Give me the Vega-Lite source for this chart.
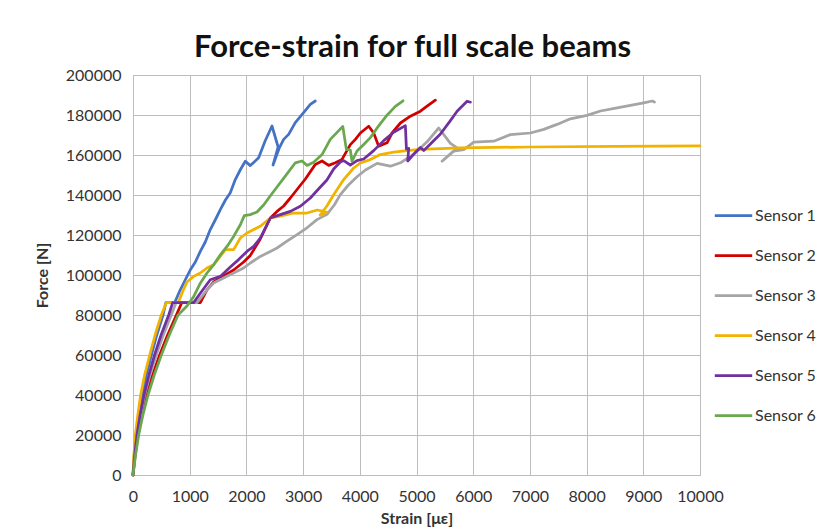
{
  "$schema": "https://vega.github.io/schema/vega-lite/v6.json",
  "width": 567,
  "height": 400,
  "autosize": {"type": "none"},
  "padding": {"left": 133, "top": 75, "right": 130, "bottom": 54},
  "background": "white",
  "title": {
    "text": "Force-strain for full scale beams",
    "font": "Lato",
    "fontSize": 31,
    "fontWeight": "bold",
    "color": "#111111",
    "anchor": "middle",
    "dx": -4,
    "offset": 3
  },
  "data": {
    "values": [
      {"s": "Sensor 1", "n": 0, "x": 0, "y": 0},
      {"s": "Sensor 1", "n": 1, "x": 22, "y": 10000},
      {"s": "Sensor 1", "n": 2, "x": 59, "y": 20000},
      {"s": "Sensor 1", "n": 3, "x": 105, "y": 30000},
      {"s": "Sensor 1", "n": 4, "x": 160, "y": 40000},
      {"s": "Sensor 1", "n": 5, "x": 235, "y": 50000},
      {"s": "Sensor 1", "n": 6, "x": 325, "y": 60000},
      {"s": "Sensor 1", "n": 7, "x": 420, "y": 70000},
      {"s": "Sensor 1", "n": 8, "x": 530, "y": 80000},
      {"s": "Sensor 1", "n": 9, "x": 580, "y": 86200},
      {"s": "Sensor 1", "n": 10, "x": 735, "y": 86200},
      {"s": "Sensor 1", "n": 11, "x": 834, "y": 92600},
      {"s": "Sensor 1", "n": 12, "x": 920, "y": 97500},
      {"s": "Sensor 1", "n": 13, "x": 1011, "y": 102600},
      {"s": "Sensor 1", "n": 14, "x": 1100, "y": 106500},
      {"s": "Sensor 1", "n": 15, "x": 1187, "y": 111800},
      {"s": "Sensor 1", "n": 16, "x": 1275, "y": 116500},
      {"s": "Sensor 1", "n": 17, "x": 1363, "y": 122700},
      {"s": "Sensor 1", "n": 18, "x": 1450, "y": 127500},
      {"s": "Sensor 1", "n": 19, "x": 1540, "y": 132700},
      {"s": "Sensor 1", "n": 20, "x": 1630, "y": 137500},
      {"s": "Sensor 1", "n": 21, "x": 1716, "y": 141100},
      {"s": "Sensor 1", "n": 22, "x": 1804, "y": 147700},
      {"s": "Sensor 1", "n": 23, "x": 1900, "y": 153000},
      {"s": "Sensor 1", "n": 24, "x": 1981, "y": 156900},
      {"s": "Sensor 1", "n": 25, "x": 2069, "y": 154700},
      {"s": "Sensor 1", "n": 26, "x": 2216, "y": 158600},
      {"s": "Sensor 1", "n": 27, "x": 2330, "y": 167000},
      {"s": "Sensor 1", "n": 28, "x": 2451, "y": 174500},
      {"s": "Sensor 1", "n": 29, "x": 2560, "y": 164000},
      {"s": "Sensor 1", "n": 30, "x": 2470, "y": 155000},
      {"s": "Sensor 1", "n": 31, "x": 2580, "y": 163500},
      {"s": "Sensor 1", "n": 32, "x": 2657, "y": 167800},
      {"s": "Sensor 1", "n": 33, "x": 2745, "y": 170300},
      {"s": "Sensor 1", "n": 34, "x": 2862, "y": 176200},
      {"s": "Sensor 1", "n": 35, "x": 3009, "y": 181200},
      {"s": "Sensor 1", "n": 36, "x": 3127, "y": 185300},
      {"s": "Sensor 1", "n": 37, "x": 3215, "y": 187000},

      {"s": "Sensor 2", "n": 0, "x": 0, "y": 0},
      {"s": "Sensor 2", "n": 1, "x": 38, "y": 10000},
      {"s": "Sensor 2", "n": 2, "x": 88, "y": 20000},
      {"s": "Sensor 2", "n": 3, "x": 155, "y": 30000},
      {"s": "Sensor 2", "n": 4, "x": 235, "y": 40000},
      {"s": "Sensor 2", "n": 5, "x": 345, "y": 50000},
      {"s": "Sensor 2", "n": 6, "x": 470, "y": 60000},
      {"s": "Sensor 2", "n": 7, "x": 610, "y": 70000},
      {"s": "Sensor 2", "n": 8, "x": 765, "y": 80000},
      {"s": "Sensor 2", "n": 9, "x": 860, "y": 86200},
      {"s": "Sensor 2", "n": 10, "x": 1187, "y": 86200},
      {"s": "Sensor 2", "n": 11, "x": 1305, "y": 92600},
      {"s": "Sensor 2", "n": 12, "x": 1422, "y": 96500},
      {"s": "Sensor 2", "n": 13, "x": 1598, "y": 99500},
      {"s": "Sensor 2", "n": 14, "x": 1775, "y": 102500},
      {"s": "Sensor 2", "n": 15, "x": 1951, "y": 106500},
      {"s": "Sensor 2", "n": 16, "x": 2069, "y": 109800},
      {"s": "Sensor 2", "n": 17, "x": 2245, "y": 118000},
      {"s": "Sensor 2", "n": 18, "x": 2422, "y": 128500},
      {"s": "Sensor 2", "n": 19, "x": 2540, "y": 131800},
      {"s": "Sensor 2", "n": 20, "x": 2657, "y": 134500},
      {"s": "Sensor 2", "n": 21, "x": 2775, "y": 138500},
      {"s": "Sensor 2", "n": 22, "x": 2900, "y": 143000},
      {"s": "Sensor 2", "n": 23, "x": 3040, "y": 148000},
      {"s": "Sensor 2", "n": 24, "x": 3216, "y": 155300},
      {"s": "Sensor 2", "n": 25, "x": 3334, "y": 157000},
      {"s": "Sensor 2", "n": 26, "x": 3451, "y": 154800},
      {"s": "Sensor 2", "n": 27, "x": 3569, "y": 156100},
      {"s": "Sensor 2", "n": 28, "x": 3686, "y": 157800},
      {"s": "Sensor 2", "n": 29, "x": 3833, "y": 165200},
      {"s": "Sensor 2", "n": 30, "x": 3922, "y": 167800},
      {"s": "Sensor 2", "n": 31, "x": 4010, "y": 171000},
      {"s": "Sensor 2", "n": 32, "x": 4157, "y": 174400},
      {"s": "Sensor 2", "n": 33, "x": 4245, "y": 171000},
      {"s": "Sensor 2", "n": 34, "x": 4333, "y": 164400},
      {"s": "Sensor 2", "n": 35, "x": 4480, "y": 166100},
      {"s": "Sensor 2", "n": 36, "x": 4569, "y": 171000},
      {"s": "Sensor 2", "n": 37, "x": 4716, "y": 176000},
      {"s": "Sensor 2", "n": 38, "x": 4892, "y": 179400},
      {"s": "Sensor 2", "n": 39, "x": 5069, "y": 181900},
      {"s": "Sensor 2", "n": 40, "x": 5186, "y": 184400},
      {"s": "Sensor 2", "n": 41, "x": 5333, "y": 187400},

      {"s": "Sensor 3", "n": 0, "x": 0, "y": 0},
      {"s": "Sensor 3", "n": 1, "x": 32, "y": 10000},
      {"s": "Sensor 3", "n": 2, "x": 76, "y": 20000},
      {"s": "Sensor 3", "n": 3, "x": 135, "y": 30000},
      {"s": "Sensor 3", "n": 4, "x": 205, "y": 40000},
      {"s": "Sensor 3", "n": 5, "x": 300, "y": 50000},
      {"s": "Sensor 3", "n": 6, "x": 410, "y": 60000},
      {"s": "Sensor 3", "n": 7, "x": 535, "y": 70000},
      {"s": "Sensor 3", "n": 8, "x": 675, "y": 80000},
      {"s": "Sensor 3", "n": 9, "x": 760, "y": 86200},
      {"s": "Sensor 3", "n": 10, "x": 1128, "y": 86200},
      {"s": "Sensor 3", "n": 11, "x": 1305, "y": 92600},
      {"s": "Sensor 3", "n": 12, "x": 1422, "y": 96000},
      {"s": "Sensor 3", "n": 13, "x": 1598, "y": 98500},
      {"s": "Sensor 3", "n": 14, "x": 1775, "y": 101000},
      {"s": "Sensor 3", "n": 15, "x": 1951, "y": 103500},
      {"s": "Sensor 3", "n": 16, "x": 2069, "y": 106000},
      {"s": "Sensor 3", "n": 17, "x": 2245, "y": 109300},
      {"s": "Sensor 3", "n": 18, "x": 2422, "y": 111800},
      {"s": "Sensor 3", "n": 19, "x": 2540, "y": 113500},
      {"s": "Sensor 3", "n": 20, "x": 2716, "y": 116900},
      {"s": "Sensor 3", "n": 21, "x": 2893, "y": 120200},
      {"s": "Sensor 3", "n": 22, "x": 3069, "y": 123600},
      {"s": "Sensor 3", "n": 23, "x": 3245, "y": 127700},
      {"s": "Sensor 3", "n": 24, "x": 3422, "y": 130300},
      {"s": "Sensor 3", "n": 25, "x": 3550, "y": 135000},
      {"s": "Sensor 3", "n": 26, "x": 3657, "y": 140200},
      {"s": "Sensor 3", "n": 27, "x": 3800, "y": 145000},
      {"s": "Sensor 3", "n": 28, "x": 3951, "y": 149100},
      {"s": "Sensor 3", "n": 29, "x": 4100, "y": 152500},
      {"s": "Sensor 3", "n": 30, "x": 4304, "y": 155800},
      {"s": "Sensor 3", "n": 31, "x": 4539, "y": 154400},
      {"s": "Sensor 3", "n": 32, "x": 4716, "y": 156100},
      {"s": "Sensor 3", "n": 33, "x": 4951, "y": 160400},
      {"s": "Sensor 3", "n": 34, "x": 5186, "y": 166600},
      {"s": "Sensor 3", "n": 35, "x": 5392, "y": 173500},
      {"s": "Sensor 3", "n": 36, "x": 5598, "y": 165800},
      {"s": "Sensor 3", "n": 37, "x": 5716, "y": 163600},
      {"s": "Sensor 3", "n": 38, "x": 5451, "y": 156900},
      {"s": "Sensor 3", "n": 39, "x": 5657, "y": 161900},
      {"s": "Sensor 3", "n": 40, "x": 5833, "y": 162700},
      {"s": "Sensor 3", "n": 41, "x": 6010, "y": 166400},
      {"s": "Sensor 3", "n": 42, "x": 6363, "y": 166900},
      {"s": "Sensor 3", "n": 43, "x": 6657, "y": 170200},
      {"s": "Sensor 3", "n": 44, "x": 7010, "y": 171000},
      {"s": "Sensor 3", "n": 45, "x": 7244, "y": 172800},
      {"s": "Sensor 3", "n": 46, "x": 7479, "y": 175300},
      {"s": "Sensor 3", "n": 47, "x": 7714, "y": 178100},
      {"s": "Sensor 3", "n": 48, "x": 8008, "y": 179800},
      {"s": "Sensor 3", "n": 49, "x": 8244, "y": 182000},
      {"s": "Sensor 3", "n": 50, "x": 8538, "y": 183600},
      {"s": "Sensor 3", "n": 51, "x": 8773, "y": 184800},
      {"s": "Sensor 3", "n": 52, "x": 9008, "y": 186100},
      {"s": "Sensor 3", "n": 53, "x": 9155, "y": 187000},
      {"s": "Sensor 3", "n": 54, "x": 9197, "y": 186500},

      {"s": "Sensor 4", "n": 0, "x": 0, "y": 0},
      {"s": "Sensor 4", "n": 1, "x": 15, "y": 10000},
      {"s": "Sensor 4", "n": 2, "x": 41, "y": 20000},
      {"s": "Sensor 4", "n": 3, "x": 85, "y": 30000},
      {"s": "Sensor 4", "n": 4, "x": 135, "y": 40000},
      {"s": "Sensor 4", "n": 5, "x": 205, "y": 50000},
      {"s": "Sensor 4", "n": 6, "x": 295, "y": 60000},
      {"s": "Sensor 4", "n": 7, "x": 390, "y": 70000},
      {"s": "Sensor 4", "n": 8, "x": 500, "y": 80000},
      {"s": "Sensor 4", "n": 9, "x": 590, "y": 86200},
      {"s": "Sensor 4", "n": 10, "x": 800, "y": 86200},
      {"s": "Sensor 4", "n": 11, "x": 880, "y": 92000},
      {"s": "Sensor 4", "n": 12, "x": 952, "y": 96500},
      {"s": "Sensor 4", "n": 13, "x": 1070, "y": 99300},
      {"s": "Sensor 4", "n": 14, "x": 1187, "y": 101000},
      {"s": "Sensor 4", "n": 15, "x": 1305, "y": 103500},
      {"s": "Sensor 4", "n": 16, "x": 1422, "y": 105100},
      {"s": "Sensor 4", "n": 17, "x": 1540, "y": 109300},
      {"s": "Sensor 4", "n": 18, "x": 1628, "y": 112700},
      {"s": "Sensor 4", "n": 19, "x": 1775, "y": 112700},
      {"s": "Sensor 4", "n": 20, "x": 1893, "y": 118500},
      {"s": "Sensor 4", "n": 21, "x": 2010, "y": 121000},
      {"s": "Sensor 4", "n": 22, "x": 2245, "y": 124400},
      {"s": "Sensor 4", "n": 23, "x": 2422, "y": 128500},
      {"s": "Sensor 4", "n": 24, "x": 2599, "y": 129400},
      {"s": "Sensor 4", "n": 25, "x": 2834, "y": 131000},
      {"s": "Sensor 4", "n": 26, "x": 3069, "y": 131000},
      {"s": "Sensor 4", "n": 27, "x": 3250, "y": 132500},
      {"s": "Sensor 4", "n": 28, "x": 3420, "y": 131500},
      {"s": "Sensor 4", "n": 29, "x": 3300, "y": 130000},
      {"s": "Sensor 4", "n": 30, "x": 3420, "y": 134500},
      {"s": "Sensor 4", "n": 31, "x": 3539, "y": 140100},
      {"s": "Sensor 4", "n": 32, "x": 3716, "y": 147700},
      {"s": "Sensor 4", "n": 33, "x": 3892, "y": 153500},
      {"s": "Sensor 4", "n": 34, "x": 4010, "y": 156000},
      {"s": "Sensor 4", "n": 35, "x": 4186, "y": 157700},
      {"s": "Sensor 4", "n": 36, "x": 4363, "y": 160200},
      {"s": "Sensor 4", "n": 37, "x": 4598, "y": 161400},
      {"s": "Sensor 4", "n": 38, "x": 4833, "y": 162200},
      {"s": "Sensor 4", "n": 39, "x": 5069, "y": 162800},
      {"s": "Sensor 4", "n": 40, "x": 5775, "y": 163600},
      {"s": "Sensor 4", "n": 41, "x": 7000, "y": 164000},
      {"s": "Sensor 4", "n": 42, "x": 8500, "y": 164300},
      {"s": "Sensor 4", "n": 43, "x": 10000, "y": 164600},

      {"s": "Sensor 5", "n": 0, "x": 0, "y": 0},
      {"s": "Sensor 5", "n": 1, "x": 30, "y": 10000},
      {"s": "Sensor 5", "n": 2, "x": 70, "y": 20000},
      {"s": "Sensor 5", "n": 3, "x": 125, "y": 30000},
      {"s": "Sensor 5", "n": 4, "x": 195, "y": 40000},
      {"s": "Sensor 5", "n": 5, "x": 280, "y": 50000},
      {"s": "Sensor 5", "n": 6, "x": 380, "y": 60000},
      {"s": "Sensor 5", "n": 7, "x": 495, "y": 70000},
      {"s": "Sensor 5", "n": 8, "x": 630, "y": 80000},
      {"s": "Sensor 5", "n": 9, "x": 700, "y": 86200},
      {"s": "Sensor 5", "n": 10, "x": 1070, "y": 86200},
      {"s": "Sensor 5", "n": 11, "x": 1187, "y": 90900},
      {"s": "Sensor 5", "n": 12, "x": 1363, "y": 97600},
      {"s": "Sensor 5", "n": 13, "x": 1540, "y": 99300},
      {"s": "Sensor 5", "n": 14, "x": 1716, "y": 104000},
      {"s": "Sensor 5", "n": 15, "x": 1863, "y": 107700},
      {"s": "Sensor 5", "n": 16, "x": 2010, "y": 111800},
      {"s": "Sensor 5", "n": 17, "x": 2128, "y": 114300},
      {"s": "Sensor 5", "n": 18, "x": 2245, "y": 118500},
      {"s": "Sensor 5", "n": 19, "x": 2422, "y": 128500},
      {"s": "Sensor 5", "n": 20, "x": 2599, "y": 130200},
      {"s": "Sensor 5", "n": 21, "x": 2775, "y": 131800},
      {"s": "Sensor 5", "n": 22, "x": 2951, "y": 134400},
      {"s": "Sensor 5", "n": 23, "x": 3128, "y": 138500},
      {"s": "Sensor 5", "n": 24, "x": 3304, "y": 144000},
      {"s": "Sensor 5", "n": 25, "x": 3420, "y": 147500},
      {"s": "Sensor 5", "n": 26, "x": 3539, "y": 153000},
      {"s": "Sensor 5", "n": 27, "x": 3657, "y": 156500},
      {"s": "Sensor 5", "n": 28, "x": 3716, "y": 157200},
      {"s": "Sensor 5", "n": 29, "x": 3833, "y": 155000},
      {"s": "Sensor 5", "n": 30, "x": 3951, "y": 157200},
      {"s": "Sensor 5", "n": 31, "x": 4069, "y": 158000},
      {"s": "Sensor 5", "n": 32, "x": 4245, "y": 162200},
      {"s": "Sensor 5", "n": 33, "x": 4422, "y": 167200},
      {"s": "Sensor 5", "n": 34, "x": 4598, "y": 171400},
      {"s": "Sensor 5", "n": 35, "x": 4804, "y": 174700},
      {"s": "Sensor 5", "n": 36, "x": 4822, "y": 163000},
      {"s": "Sensor 5", "n": 37, "x": 4863, "y": 163300},
      {"s": "Sensor 5", "n": 38, "x": 4845, "y": 157000},
      {"s": "Sensor 5", "n": 39, "x": 4980, "y": 161300},
      {"s": "Sensor 5", "n": 40, "x": 5069, "y": 163800},
      {"s": "Sensor 5", "n": 41, "x": 5128, "y": 162200},
      {"s": "Sensor 5", "n": 42, "x": 5245, "y": 165500},
      {"s": "Sensor 5", "n": 43, "x": 5422, "y": 170500},
      {"s": "Sensor 5", "n": 44, "x": 5598, "y": 177200},
      {"s": "Sensor 5", "n": 45, "x": 5716, "y": 181900},
      {"s": "Sensor 5", "n": 46, "x": 5892, "y": 186900},
      {"s": "Sensor 5", "n": 47, "x": 5951, "y": 186400},

      {"s": "Sensor 6", "n": 0, "x": 0, "y": 0},
      {"s": "Sensor 6", "n": 1, "x": 45, "y": 10000},
      {"s": "Sensor 6", "n": 2, "x": 100, "y": 20000},
      {"s": "Sensor 6", "n": 3, "x": 175, "y": 30000},
      {"s": "Sensor 6", "n": 4, "x": 265, "y": 40000},
      {"s": "Sensor 6", "n": 5, "x": 375, "y": 50000},
      {"s": "Sensor 6", "n": 6, "x": 500, "y": 60000},
      {"s": "Sensor 6", "n": 7, "x": 640, "y": 70000},
      {"s": "Sensor 6", "n": 8, "x": 795, "y": 80000},
      {"s": "Sensor 6", "n": 9, "x": 952, "y": 84500},
      {"s": "Sensor 6", "n": 10, "x": 1070, "y": 89200},
      {"s": "Sensor 6", "n": 11, "x": 1187, "y": 95900},
      {"s": "Sensor 6", "n": 12, "x": 1305, "y": 101000},
      {"s": "Sensor 6", "n": 13, "x": 1422, "y": 105100},
      {"s": "Sensor 6", "n": 14, "x": 1540, "y": 110100},
      {"s": "Sensor 6", "n": 15, "x": 1658, "y": 114300},
      {"s": "Sensor 6", "n": 16, "x": 1775, "y": 119300},
      {"s": "Sensor 6", "n": 17, "x": 1893, "y": 125100},
      {"s": "Sensor 6", "n": 18, "x": 1963, "y": 129700},
      {"s": "Sensor 6", "n": 19, "x": 2069, "y": 130200},
      {"s": "Sensor 6", "n": 20, "x": 2187, "y": 131500},
      {"s": "Sensor 6", "n": 21, "x": 2304, "y": 135000},
      {"s": "Sensor 6", "n": 22, "x": 2420, "y": 139500},
      {"s": "Sensor 6", "n": 23, "x": 2540, "y": 144000},
      {"s": "Sensor 6", "n": 24, "x": 2686, "y": 149400},
      {"s": "Sensor 6", "n": 25, "x": 2863, "y": 156100},
      {"s": "Sensor 6", "n": 26, "x": 2980, "y": 157000},
      {"s": "Sensor 6", "n": 27, "x": 3069, "y": 154800},
      {"s": "Sensor 6", "n": 28, "x": 3186, "y": 156400},
      {"s": "Sensor 6", "n": 29, "x": 3334, "y": 160200},
      {"s": "Sensor 6", "n": 30, "x": 3480, "y": 167800},
      {"s": "Sensor 6", "n": 31, "x": 3700, "y": 174300},
      {"s": "Sensor 6", "n": 32, "x": 3763, "y": 162800},
      {"s": "Sensor 6", "n": 33, "x": 3833, "y": 162500},
      {"s": "Sensor 6", "n": 34, "x": 3863, "y": 156900},
      {"s": "Sensor 6", "n": 35, "x": 3951, "y": 162000},
      {"s": "Sensor 6", "n": 36, "x": 4069, "y": 165300},
      {"s": "Sensor 6", "n": 37, "x": 4186, "y": 168700},
      {"s": "Sensor 6", "n": 38, "x": 4333, "y": 174600},
      {"s": "Sensor 6", "n": 39, "x": 4480, "y": 179900},
      {"s": "Sensor 6", "n": 40, "x": 4627, "y": 184300},
      {"s": "Sensor 6", "n": 41, "x": 4763, "y": 187100}
    ]
  },
  "mark": {"type": "line", "strokeWidth": 2.75, "strokeJoin": "round", "strokeCap": "round"},
  "encoding": {
    "x": {
      "field": "x",
      "type": "quantitative",
      "scale": {"domain": [0, 10000], "nice": false, "zero": true},
      "axis": {
        "title": "Strain [με]",
        "values": [0, 1000, 2000, 3000, 4000, 5000, 6000, 7000, 8000, 9000, 10000],
        "format": "d",
        "labelOverlap": false,
        "labelFlush": false,
        "labelPadding": 13,
        "titlePadding": 6
      }
    },
    "y": {
      "field": "y",
      "type": "quantitative",
      "scale": {"domain": [0, 200000], "nice": false},
      "axis": {
        "title": "Force [N]",
        "values": [0, 20000, 40000, 60000, 80000, 100000, 120000, 140000, 160000, 180000, 200000],
        "format": "d",
        "labelOverlap": false,
        "labelFlush": false,
        "labelPadding": 12,
        "titleX": -83,
        "titleY": 200
      }
    },
    "color": {
      "field": "s",
      "type": "nominal",
      "scale": {
        "domain": ["Sensor 1", "Sensor 2", "Sensor 3", "Sensor 4", "Sensor 5", "Sensor 6"],
        "range": ["#4472C4", "#D00000", "#A5A5A5", "#F2B200", "#7030A0", "#6AA84F"]
      },
      "legend": {
        "title": null,
        "orient": "none",
        "legendX": 580,
        "legendY": 120,
        "symbolType": "stroke",
        "symbolSize": 1400,
        "symbolStrokeWidth": 2.75,
        "labelFont": "Lato",
        "labelFontSize": 16,
        "labelColor": "#333333",
        "labelOffset": 1,
        "rowPadding": 11
      }
    },
    "order": {"field": "n", "type": "quantitative"}
  },
  "config": {
    "font": "Lato",
    "view": {"stroke": "#bdbdbd", "strokeWidth": 1},
    "axis": {
      "labelFont": "Lato",
      "labelFontSize": 16,
      "labelColor": "#333333",
      "titleFont": "Lato",
      "titleFontSize": 16,
      "titleFontWeight": "bold",
      "titleColor": "#333333",
      "gridColor": "#bdbdbd",
      "gridOpacity": 1,
      "domainColor": "#bdbdbd",
      "tickSize": 0
    }
  }
}
